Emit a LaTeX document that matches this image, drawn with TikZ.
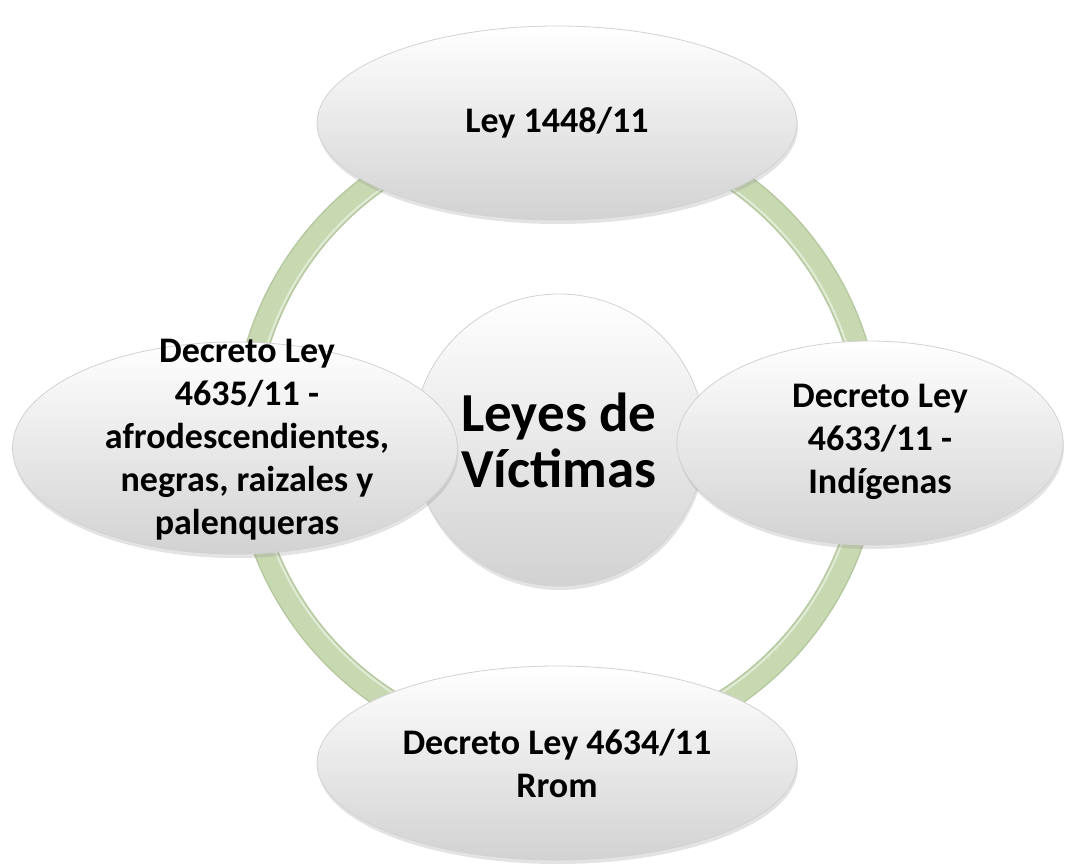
\documentclass[tikz,border=0pt]{standalone}
\usepackage{fontspec}
\setmainfont{Carlito}
\usetikzlibrary{shapes.geometric,shadows,calc}
\definecolor{ringgreen}{RGB}{200,217,178}
\definecolor{ringedge}{RGB}{182,200,160}
\definecolor{bubblebottom}{RGB}{210,210,210}
\tikzset{
  bubble/.style={ellipse, inner sep=0pt, align=center,
    top color=white, bottom color=bubblebottom, draw=gray!35, line width=0.8pt,
    drop shadow={opacity=0.22, shadow xshift=1pt, shadow yshift=-4pt},
    font=\fontsize{36}{43}\selectfont\bfseries},
  hub/.style={circle, inner sep=0pt, align=center,
    top color=white, bottom color=bubblebottom, draw=gray!35, line width=0.8pt,
    drop shadow={opacity=0.22, shadow xshift=1pt, shadow yshift=-4pt},
    font=\fontsize{55}{56}\selectfont\bfseries},
  txt/.style={inner sep=0pt, align=center, font=\fontsize{36}{43}\selectfont\bfseries}
}
\begin{document}
\begin{tikzpicture}[x=1pt,y=-1pt]
\useasboundingbox (0,0) rectangle (1067,867);
% ring
\coordinate (rc) at (557,437);
\draw[ringedge, line width=24pt] (rc) circle[radius=313];
\draw[ringgreen, line width=21pt] (rc) circle[radius=313];
\draw[white, opacity=0.45, line width=2pt] (rc) circle[radius=304];
% nodes
\node[bubble, minimum width=480pt, minimum height=194pt] (top) at (557,123) {Ley 1448/11};
\node[bubble, minimum width=480pt, minimum height=194pt] (bottom) at (557,763) {Decreto Ley 4634/11\\Rrom};
\node[hub, minimum size=292pt] (center) at (559,440) {Leyes de\\Víctimas};
\node[bubble, minimum width=445pt, minimum height=212pt] (left) at (235,448) {};
\node[txt] (lefttext) at (247,440) {Decreto Ley\\4635/11 -\\afrodescendientes,\\negras, raizales y\\palenqueras};
\node[bubble, minimum width=386pt, minimum height=204pt] (right) at (870,443) {};
\node[txt] (righttext) at (880,442) {Decreto Ley\\4633/11 -\\Indígenas};
\end{tikzpicture}
\end{document}
